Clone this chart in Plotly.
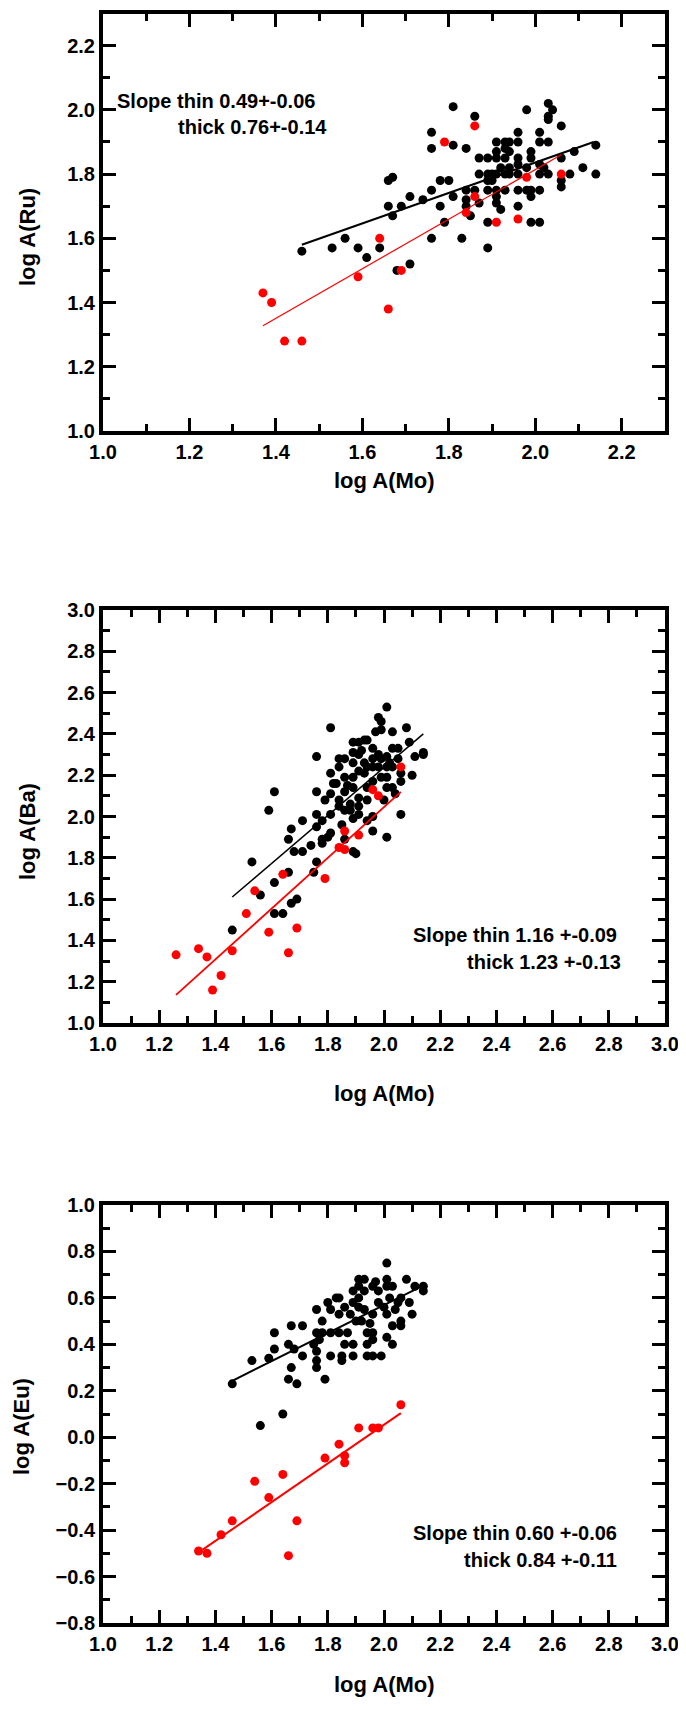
import plotly.graph_objects as go

# Browser body keeps its default 8px margin; the figure fills the rest of the 686x1710 window.
PAGE_W, PAGE_H, OFF = 686, 1710, 8
FW, FH = PAGE_W - 2 * OFF, PAGE_H - 2 * OFF

# ---------------- Panel 1 : log A(Ru) vs log A(Mo) ----------------
ru_thin_x = [1.46, 1.53, 1.56, 1.59, 1.61, 1.64, 1.66, 1.67, 1.66, 1.67, 1.68, 1.69, 1.71, 1.71,
             1.74, 1.76, 1.76, 1.76, 1.76, 1.78, 1.80, 1.78, 1.79, 1.81, 1.81, 1.81, 1.83, 1.84,
             1.84, 1.84, 1.84, 1.85, 1.86, 1.86, 1.87, 1.87, 1.87, 1.89, 1.89, 1.89, 1.89, 1.89,
             1.89, 1.90, 1.90, 1.91, 1.91, 1.91, 1.91, 1.91, 1.91, 1.91, 1.92, 1.92, 1.93, 1.93,
             1.93, 1.93, 1.93, 1.94, 1.94, 1.94, 1.94, 1.96, 1.96, 1.96, 1.96, 1.96, 1.96, 1.96,
             1.98, 1.98, 1.98, 1.99, 1.99, 1.99, 1.99, 1.99, 2.01, 2.01, 2.01, 2.01, 2.01, 2.01,
             2.02, 2.03, 2.03, 2.03, 2.03, 2.03, 2.04, 2.06, 2.06, 2.06, 2.06, 2.08, 2.09, 2.11,
             2.14, 2.14]
ru_thin_y = [1.56, 1.57, 1.60, 1.57, 1.54, 1.57, 1.78, 1.79, 1.70, 1.67, 1.50, 1.70, 1.52, 1.73,
             1.72, 1.75, 1.60, 1.88, 1.93, 1.78, 1.78, 1.70, 1.65, 2.01, 1.89, 1.73, 1.60, 1.88,
             1.75, 1.72, 1.70, 1.67, 1.98, 1.75, 1.85, 1.80, 1.71, 1.85, 1.80, 1.78, 1.75, 1.65,
             1.57, 1.80, 1.78, 1.90, 1.87, 1.85, 1.80, 1.75, 1.73, 1.71, 1.69, 1.82, 1.90, 1.88,
             1.85, 1.80, 1.75, 1.90, 1.87, 1.82, 1.80, 1.93, 1.90, 1.85, 1.83, 1.80, 1.75, 1.70,
             2.00, 1.82, 1.75, 1.87, 1.85, 1.75, 1.73, 1.65, 1.93, 1.90, 1.83, 1.80, 1.75, 1.65,
             1.82, 2.02, 1.98, 1.97, 1.90, 1.80, 2.00, 1.95, 1.85, 1.78, 1.76, 1.80, 1.87, 1.82,
             1.89, 1.80]
ru_thick_x = [1.37, 1.39, 1.42, 1.46, 1.59, 1.64, 1.66, 1.69, 1.79, 1.84, 1.86, 1.86, 1.91, 1.96,
              1.98, 2.06]
ru_thick_y = [1.43, 1.40, 1.28, 1.28, 1.48, 1.60, 1.38, 1.50, 1.90, 1.68, 1.95, 1.73, 1.65, 1.66,
              1.79, 1.80]
ru_fit_thin_x = [1.46, 2.135]
ru_fit_thin_y = [1.58, 1.90]
ru_fit_thick_x = [1.37, 2.06]
ru_fit_thick_y = [1.328, 1.860]

# ---------------- Panel 2 : log A(Ba) vs log A(Mo) ----------------
ba_thin_x = [1.46, 1.53, 1.56, 1.59, 1.61, 1.61, 1.61, 1.64, 1.66, 1.66, 1.67, 1.67, 1.69, 1.68,
             1.71, 1.71, 1.74, 1.75, 1.76, 1.76, 1.76, 1.76, 1.76, 1.78, 1.78, 1.78, 1.79, 1.80,
             1.81, 1.81, 1.81, 1.81, 1.81, 1.82, 1.83, 1.84, 1.84, 1.84, 1.85, 1.84, 1.86, 1.86,
             1.86, 1.86, 1.86, 1.87, 1.88, 1.88, 1.89, 1.89, 1.89, 1.89, 1.89, 1.89, 1.89, 1.90,
             1.91, 1.91, 1.91, 1.91, 1.91, 1.91, 1.92, 1.93, 1.93, 1.93, 1.94, 1.94, 1.94, 1.94,
             1.94, 1.96, 1.96, 1.96, 1.96, 1.96, 1.96, 1.97, 1.98, 1.98, 1.98, 1.99, 1.99, 1.99,
             1.99, 2.00, 2.01, 2.01, 2.01, 2.01, 2.01, 2.01, 2.02, 2.03, 2.03, 2.03, 2.03, 2.04,
             2.05, 2.05, 2.06, 2.06, 2.06, 2.08, 2.09, 2.10, 2.11, 2.14, 2.14]
ba_thin_y = [1.45, 1.78, 1.62, 2.03, 2.12, 1.68, 1.53, 1.53, 1.73, 1.89, 1.94, 1.58, 1.60, 1.83,
             1.83, 1.98, 1.86, 1.73, 2.29, 2.12, 2.01, 1.95, 1.78, 1.98, 1.89, 1.87, 2.08, 1.90,
             2.43, 2.21, 2.11, 2.01, 1.92, 2.16, 2.16, 2.24, 2.08, 2.05, 1.96, 2.28, 2.28, 2.19,
             2.12, 2.03, 1.89, 2.15, 2.06, 2.03, 2.36, 2.31, 2.26, 2.19, 2.14, 1.99, 1.83, 1.82,
             2.36, 2.30, 2.22, 2.09, 2.05, 2.01, 2.32, 2.37, 2.26, 2.21, 2.37, 2.24, 2.14, 2.08,
             1.98, 2.33, 2.28, 2.24, 2.17, 2.00, 1.93, 2.41, 2.48, 2.30, 2.24, 2.46, 2.42, 2.28,
             2.19, 2.08, 2.53, 2.29, 2.24, 2.19, 2.14, 1.90, 2.26, 2.41, 2.33, 2.24, 2.14, 2.11,
             2.33, 2.28, 2.21, 2.17, 2.01, 2.43, 2.36, 2.20, 2.29, 2.30, 2.31]
ba_thick_x = [1.26, 1.34, 1.37, 1.39, 1.42, 1.46, 1.51, 1.54, 1.59, 1.64, 1.66, 1.69, 1.79, 1.84,
              1.86, 1.86, 1.91, 1.96, 1.98, 2.06]
ba_thick_y = [1.33, 1.36, 1.32, 1.16, 1.23, 1.35, 1.53, 1.64, 1.44, 1.72, 1.34, 1.46, 1.70, 1.85,
              1.93, 1.84, 1.91, 2.13, 2.10, 2.24]
ba_fit_thin_x = [1.46, 2.14]
ba_fit_thin_y = [1.61, 2.40]
ba_fit_thick_x = [1.26, 2.06]
ba_fit_thick_y = [1.136, 2.119]

# ---------------- Panel 3 : log A(Eu) vs log A(Mo) ----------------
eu_thin_x = [1.46, 1.53, 1.56, 1.59, 1.61, 1.61, 1.64, 1.66, 1.66, 1.67, 1.67, 1.68, 1.69, 1.71,
             1.71, 1.75, 1.76, 1.76, 1.76, 1.76, 1.76, 1.77, 1.78, 1.78, 1.79, 1.80, 1.81, 1.81,
             1.81, 1.83, 1.84, 1.84, 1.84, 1.85, 1.85, 1.86, 1.86, 1.87, 1.88, 1.89, 1.89, 1.89,
             1.89, 1.90, 1.91, 1.91, 1.91, 1.91, 1.92, 1.93, 1.93, 1.93, 1.94, 1.94, 1.94, 1.95,
             1.96, 1.96, 1.96, 1.96, 1.96, 1.97, 1.98, 1.98, 1.99, 2.00, 2.01, 2.01, 2.01, 2.01,
             2.01, 2.02, 2.03, 2.03, 2.03, 2.04, 2.05, 2.06, 2.06, 2.06, 2.08, 2.09, 2.10, 2.11,
             2.14, 2.14]
eu_thin_y = [0.23, 0.33, 0.05, 0.34, 0.38, 0.45, 0.10, 0.25, 0.40, 0.48, 0.30, 0.38, 0.23, 0.48,
             0.35, 0.40, 0.55, 0.45, 0.37, 0.33, 0.30, 0.42, 0.45, 0.50, 0.25, 0.58, 0.55, 0.35,
             0.45, 0.60, 0.60, 0.53, 0.45, 0.35, 0.33, 0.56, 0.40, 0.45, 0.53, 0.63, 0.58, 0.40,
             0.35, 0.50, 0.68, 0.65, 0.60, 0.56, 0.50, 0.68, 0.63, 0.55, 0.45, 0.40, 0.35, 0.49,
             0.65, 0.53, 0.45, 0.42, 0.35, 0.67, 0.63, 0.58, 0.35, 0.56, 0.75, 0.68, 0.65, 0.53,
             0.43, 0.60, 0.65, 0.48, 0.40, 0.55, 0.58, 0.60, 0.50, 0.48, 0.68, 0.58, 0.53, 0.65,
             0.65, 0.63]
eu_thick_x = [1.34, 1.37, 1.42, 1.46, 1.54, 1.59, 1.64, 1.66, 1.69, 1.79, 1.84, 1.86, 1.86, 1.91,
              1.96, 1.98, 2.06]
eu_thick_y = [-0.49, -0.50, -0.42, -0.36, -0.19, -0.26, -0.16, -0.51, -0.36, -0.09, -0.03, -0.08,
              -0.11, 0.04, 0.04, 0.04, 0.14]
eu_fit_thin_x = [1.46, 2.13]
eu_fit_thin_y = [0.243, 0.647]
eu_fit_thick_x = [1.355, 2.06]
eu_fit_thick_y = [-0.484, 0.104]

# ---------------- Axis ranges / tick spacing ----------------
x_ranges = [[1.0, 2.3], [1.0, 3.0], [1.0, 3.0]]
y_ranges = [[1.0, 2.3], [1.0, 3.0], [-0.8, 1.0]]
major_step = 0.2
minor_step = 0.1

x_title = "log A(Mo)"
y_titles = ["log A(Ru)", "log A(Ba)", "log A(Eu)"]
slope_texts = [("Slope thin 0.49+-0.06", "thick 0.76+-0.14"),
               ("Slope thin 1.16 +-0.09", "thick 1.23 +-0.13"),
               ("Slope thin 0.60 +-0.06", "thick 0.84 +-0.11")]

FONT = "Liberation Sans, Arial, sans-serif"
BLACK = "#000000"
RED = "#ff0000"

fig = go.Figure()

panels = [
    dict(ax="", tx=ru_thin_x, ty=ru_thin_y, kx=ru_thick_x, ky=ru_thick_y,
         ftx=ru_fit_thin_x, fty=ru_fit_thin_y, fkx=ru_fit_thick_x, fky=ru_fit_thick_y,
         lw_thin=2, lw_thick=1.2),
    dict(ax="2", tx=ba_thin_x, ty=ba_thin_y, kx=ba_thick_x, ky=ba_thick_y,
         ftx=ba_fit_thin_x, fty=ba_fit_thin_y, fkx=ba_fit_thick_x, fky=ba_fit_thick_y,
         lw_thin=1.5, lw_thick=1.8),
    dict(ax="3", tx=eu_thin_x, ty=eu_thin_y, kx=eu_thick_x, ky=eu_thick_y,
         ftx=eu_fit_thin_x, fty=eu_fit_thin_y, fkx=eu_fit_thick_x, fky=eu_fit_thick_y,
         lw_thin=2, lw_thick=2),
]

for p in panels:
    xa, ya = "x" + p["ax"], "y" + p["ax"]
    fig.add_trace(go.Scatter(x=p["tx"], y=p["ty"], mode="markers", xaxis=xa, yaxis=ya,
                             marker=dict(color=BLACK, size=9, line=dict(width=0)), showlegend=False))
    fig.add_trace(go.Scatter(x=p["kx"], y=p["ky"], mode="markers", xaxis=xa, yaxis=ya,
                             marker=dict(color=RED, size=9, line=dict(width=0)), showlegend=False))
    fig.add_trace(go.Scatter(x=p["ftx"], y=p["fty"], mode="lines", xaxis=xa, yaxis=ya,
                             line=dict(color=BLACK, width=p["lw_thin"]), showlegend=False))
    fig.add_trace(go.Scatter(x=p["fkx"], y=p["fky"], mode="lines", xaxis=xa, yaxis=ya,
                             line=dict(color=RED, width=p["lw_thick"]), showlegend=False))


def px_x(v):
    """page pixel -> paper fraction"""
    return (v - OFF) / FW


def px_y(v):
    return 1 - (v - OFF) / FH


x_dom = [px_x(103), px_x(665)]
y_doms = [[px_y(431), px_y(13.5)], [px_y(1023), px_y(610)], [px_y(1623), px_y(1205)]]

tickfont = dict(family=FONT, size=20, color=BLACK, weight="bold")


def axis_common(rng, dom, anchor):
    return dict(
        range=rng, domain=dom, anchor=anchor, automargin=False,
        showline=True, linecolor=BLACK, linewidth=4, mirror="allticks",
        ticks="inside", ticklen=13, tickwidth=3, tickcolor=BLACK,
        tick0=rng[0], dtick=major_step, tickformat=".1f", tickfont=tickfont,
        ticklabeloverflow="allow",
        minor=dict(ticks="inside", ticklen=7, tickwidth=3, tickcolor=BLACK,
                   dtick=minor_step, tick0=rng[0]),
        showgrid=False, zeroline=False,
    )


layout = dict(
    width=FW, height=FH, autosize=False,
    margin=dict(l=0, r=0, t=0, b=0, pad=0),
    paper_bgcolor="white", plot_bgcolor="white",
    font=dict(family=FONT, color=BLACK),
    showlegend=False,
)
for i in range(3):
    sfx = "" if i == 0 else str(i + 1)
    layout["xaxis" + sfx] = axis_common(x_ranges[i], x_dom, "y" + sfx)
    layout["yaxis" + sfx] = axis_common(y_ranges[i], y_doms[i], "x" + sfx)

fig.update_layout(**layout)

title_font = dict(family=FONT, size=22, color=BLACK, weight="bold")
ann_font = dict(family=FONT, size=20, color=BLACK, weight="bold")

# x axis titles
for yc in [480, 1093, 1684]:
    fig.add_annotation(x=px_x(384), y=px_y(yc), xref="paper", yref="paper", text=x_title,
                       showarrow=False, font=title_font, xanchor="center", yanchor="middle")
# y axis titles
for t, xc, yc in zip(y_titles, [27, 27, 21], [237, 832, 1427]):
    fig.add_annotation(x=px_x(xc), y=px_y(yc), xref="paper", yref="paper", text=t,
                       textangle=-90, showarrow=False, font=title_font,
                       xanchor="center", yanchor="middle")

# slope annotations
fig.add_annotation(x=1.028, y=2.029, xref="x", yref="y", text=slope_texts[0][0], showarrow=False,
                   font=ann_font, xanchor="left", yanchor="middle")
fig.add_annotation(x=1.17, y=1.946, xref="x", yref="y", text=slope_texts[0][1], showarrow=False,
                   font=ann_font, xanchor="left", yanchor="middle")
fig.add_annotation(x=2.838, y=1.424, xref="x2", yref="y2", text=slope_texts[1][0], showarrow=False,
                   font=ann_font, xanchor="right", yanchor="middle")
fig.add_annotation(x=2.85, y=1.293, xref="x2", yref="y2", text=slope_texts[1][1], showarrow=False,
                   font=ann_font, xanchor="right", yanchor="middle")
fig.add_annotation(x=2.835, y=-0.413, xref="x3", yref="y3", text=slope_texts[2][0], showarrow=False,
                   font=ann_font, xanchor="right", yanchor="middle")
fig.add_annotation(x=2.838, y=-0.528, xref="x3", yref="y3", text=slope_texts[2][1], showarrow=False,
                   font=ann_font, xanchor="right", yanchor="middle")

fig.write_html("out.html", config={"displayModeBar": False, "responsive": False})
